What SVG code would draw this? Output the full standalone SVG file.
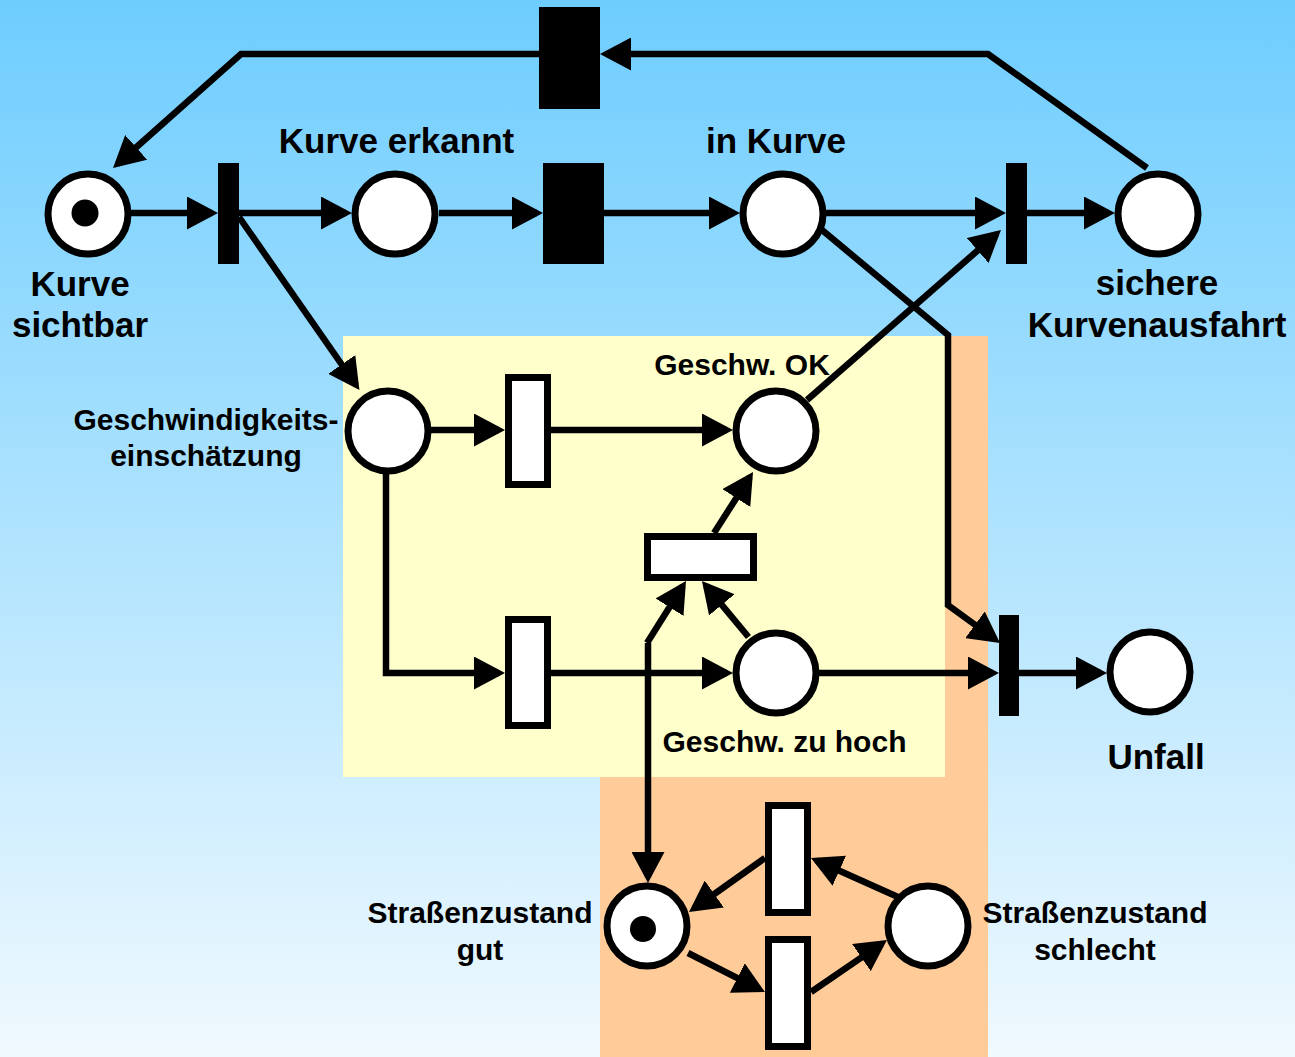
<svg xmlns="http://www.w3.org/2000/svg" width="1295" height="1057" viewBox="0 0 1295 1057">
<defs>
<linearGradient id="bg" x1="0" y1="0" x2="0" y2="1">
<stop offset="0" stop-color="#6ecdfe"/>
<stop offset="1" stop-color="#f0f9fe"/>
</linearGradient>
<marker id="ah" markerUnits="userSpaceOnUse" markerWidth="31" markerHeight="33" refX="25" refY="16.5" orient="auto">
<path d="M0,0 L31,16.5 L0,33 z" fill="#000"/>
</marker>
</defs>
<style>
.place{fill:#fff;stroke:#000;stroke-width:7}
.tok{fill:#000}
.tb{fill:#000}
.tw{fill:#fff;stroke:#000;stroke-width:7}
.arc{fill:none;stroke:#000;stroke-width:6.5;stroke-linejoin:miter}
.arr{marker-end:url(#ah)}
.lg{font-family:"Liberation Sans",Arial,sans-serif;font-weight:bold;font-size:35px;fill:#000;text-anchor:middle}
.sm{font-family:"Liberation Sans",Arial,sans-serif;font-weight:bold;font-size:30px;fill:#000;text-anchor:middle}
</style>
<rect x="0" y="0" width="1295" height="1057" fill="url(#bg)"/>
<rect x="600" y="336" width="388" height="721" fill="#ffcc99"/>
<rect x="343" y="336" width="602" height="441" fill="#ffffcc"/>

<g id="connectors">
<line class="arc arr" x1="131" y1="213" x2="212" y2="213"/>
<line class="arc arr" x1="239" y1="213" x2="346" y2="213"/>
<line class="arc arr" x1="439" y1="213" x2="537" y2="213"/>
<line class="arc arr" x1="604" y1="213" x2="734" y2="213"/>
<line class="arc arr" x1="825" y1="213" x2="1000" y2="213"/>
<line class="arc arr" x1="1027" y1="213" x2="1109" y2="213"/>
<polyline class="arc arr" points="1147,168 988,54 606,54"/>
<polyline class="arc arr" points="539,54 241,54 117.5,164"/>
<line class="arc arr" x1="239" y1="217" x2="356" y2="385"/>
<line class="arc arr" x1="430" y1="430" x2="499" y2="430"/>
<line class="arc arr" x1="551" y1="430" x2="727" y2="430"/>
<polyline class="arc arr" points="386,473 386,673 499,673"/>
<line class="arc arr" x1="551" y1="673" x2="727" y2="673"/>
<line class="arc arr" x1="818" y1="673" x2="993" y2="673"/>
<line class="arc arr" x1="1019" y1="673" x2="1101" y2="673"/>
<polyline class="arc arr" points="822,230 948,335 948,605 995.2,639.5"/>
<line class="arc arr" x1="807" y1="400" x2="996.5" y2="234"/>
<line class="arc arr" x1="714" y1="533" x2="749.8" y2="477"/>
<line class="arc arr" x1="748.5" y1="637" x2="705.8" y2="585.6"/>
<line class="arc arr" x1="647" y1="643" x2="682.8" y2="586"/>
<line class="arc arr" x1="648" y1="643" x2="648" y2="877"/>
<line class="arc arr" x1="765" y1="858" x2="693.9" y2="908.5"/>
<line class="arc arr" x1="898" y1="897" x2="816.5" y2="860.5"/>
<line class="arc arr" x1="688" y1="953" x2="759.6" y2="989.3"/>
<line class="arc arr" x1="811" y1="992" x2="882" y2="943.4"/>
</g>

<g id="t-top"><rect class="tb" x="539" y="7" width="61" height="102"/></g>
<g id="t1"><rect class="tb" x="218" y="163" width="21" height="101"/></g>
<g id="t2"><rect class="tb" x="543" y="163" width="61" height="101"/></g>
<g id="t3"><rect class="tb" x="1006" y="163" width="21" height="101"/></g>
<g id="t6"><rect class="tb" x="999" y="615" width="20" height="101"/></g>
<g id="t4"><rect class="tw" x="508.5" y="377.5" width="39" height="107"/></g>
<g id="t5"><rect class="tw" x="508.5" y="619.5" width="39" height="106"/></g>
<g id="th"><rect class="tw" x="647.5" y="536.5" width="106" height="41"/></g>
<g id="t7"><rect class="tw" x="768.5" y="805.5" width="39" height="107"/></g>
<g id="t8"><rect class="tw" x="768.5" y="939.5" width="39" height="107"/></g>

<g id="p-kurve-sichtbar">
<circle class="place" cx="88" cy="214" r="40"/>
<circle class="tok" cx="85" cy="213" r="13.5"/>
<text class="lg" x="80" y="296">Kurve</text>
<text class="lg" x="80" y="337">sichtbar</text>
</g>
<g id="p-kurve-erkannt">
<circle class="place" cx="395" cy="214" r="40"/>
<text class="lg" x="396.5" y="153">Kurve erkannt</text>
</g>
<g id="p-in-kurve">
<circle class="place" cx="783" cy="214" r="40"/>
<text class="lg" x="776" y="153">in Kurve</text>
</g>
<g id="p-sichere">
<circle class="place" cx="1158" cy="214" r="40"/>
<text class="lg" x="1157" y="295">sichere</text>
<text class="lg" x="1157" y="337">Kurvenausfahrt</text>
</g>
<g id="p-geschw-einsch">
<circle class="place" cx="388" cy="431" r="40"/>
<text class="sm" x="206" y="430">Geschwindigkeits-</text>
<text class="sm" x="206" y="466">einschätzung</text>
</g>
<g id="p-geschw-ok">
<circle class="place" cx="776" cy="431" r="40"/>
<text class="sm" x="742" y="375">Geschw. OK</text>
</g>
<g id="p-geschw-hoch">
<circle class="place" cx="776" cy="673" r="40"/>
<text class="sm" x="784.5" y="752">Geschw. zu hoch</text>
</g>
<g id="p-unfall">
<circle class="place" cx="1150" cy="672" r="40"/>
<text class="lg" x="1156" y="769">Unfall</text>
</g>
<g id="p-strasse-gut">
<circle class="place" cx="647" cy="926" r="40"/>
<circle class="tok" cx="643" cy="929" r="13"/>
<text class="sm" x="480" y="923">Straßenzustand</text>
<text class="sm" x="480" y="960">gut</text>
</g>
<g id="p-strasse-schlecht">
<circle class="place" cx="928" cy="926" r="40"/>
<text class="sm" x="1095" y="923">Straßenzustand</text>
<text class="sm" x="1095" y="960">schlecht</text>
</g>
</svg>
